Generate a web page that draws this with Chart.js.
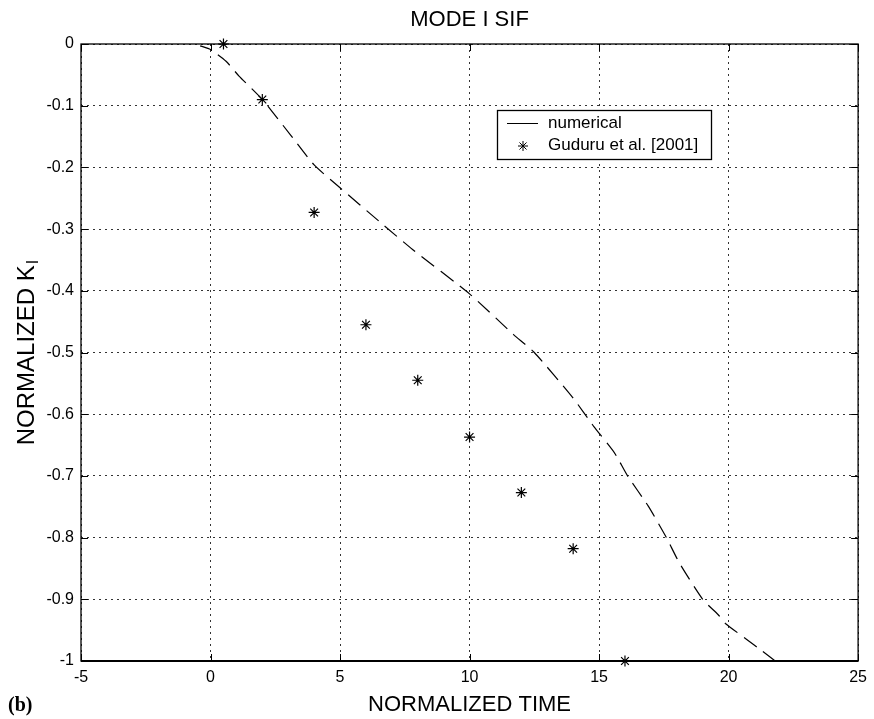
<!DOCTYPE html>
<html><head><meta charset="utf-8">
<script src="https://cdn.jsdelivr.net/npm/chart.js@4.4.0/dist/chart.umd.min.js"></script>
<style>html,body{margin:0;padding:0;background:#fff}#wrap{width:874px;height:719px}</style>
</head><body><div id="wrap"><canvas id="c" width="874" height="719"></canvas></div>
<script>
// ---- data ----
const numericalX = [-0.4, 0, 0.6, 1.1, 2, 3.1, 4, 5, 6.5, 7.8, 10, 11.7, 12.5, 14, 14.8, 15.6, 16.1, 16.9, 17.6, 18.1, 19, 19.6, 19.9, 20.7, 21.3, 21.8];
const numericalY = [-0.003, -0.009, -0.028, -0.052, -0.09, -0.148, -0.196, -0.233, -0.287, -0.333, -0.405, -0.471, -0.5, -0.574, -0.62, -0.663, -0.7, -0.749, -0.8, -0.841, -0.9, -0.925, -0.94, -0.965, -0.984, -1.0];
const guduruX = [0.5, 2, 4, 6, 8, 10, 12, 14, 16];
const guduruY = [0, -0.09, -0.273, -0.455, -0.545, -0.637, -0.727, -0.818, -1.0];
const xTicks = [-5, 0, 5, 10, 15, 20, 25];
const yTicks = [0, -0.1, -0.2, -0.3, -0.4, -0.5, -0.6, -0.7, -0.8, -0.9, -1];
const titleText = 'MODE I SIF';
const xTitle = 'NORMALIZED TIME';
const yTitleMain = 'NORMALIZED K';
const yTitleSub = 'I';
const legendLabels = ['numerical', 'Guduru et al. [2001]'];
const panelLabel = '(b)';

const FONT = "'Liberation Sans', Arial, Helvetica, sans-serif";

const numPts = numericalX.map((x, i) => ({x, y: numericalY[i]}));
const gPts = guduruX.map((x, i) => ({x, y: guduruY[i]}));

const bgPlugin = {
  id: 'bg',
  beforeDraw(chart) {
    const ctx = chart.ctx;
    ctx.save(); ctx.fillStyle = '#fff'; ctx.fillRect(0, 0, chart.width, chart.height); ctx.restore();
  }
};

const framePlugin = {
  id: 'frame',
  beforeDatasetsDraw(chart) {
    const {ctx, chartArea: a, scales: {x, y}} = chart;
    ctx.save();
    ctx.strokeStyle = '#000';
    ctx.lineWidth = 1;
    ctx.beginPath();
    const tl = 7;
    xTicks.forEach(v => {
      const px = Math.round(x.getPixelForValue(v)) + 0.5;
      ctx.moveTo(px, a.bottom); ctx.lineTo(px, a.bottom - tl);
      ctx.moveTo(px, a.top); ctx.lineTo(px, a.top + tl);
    });
    yTicks.forEach(v => {
      const py = Math.round(y.getPixelForValue(v)) + 0.5;
      ctx.moveTo(a.left, py); ctx.lineTo(a.left + tl, py);
      ctx.moveTo(a.right, py); ctx.lineTo(a.right - tl, py);
    });
    ctx.stroke();
    ctx.lineWidth = 1.3;
    ctx.strokeRect(a.left, a.top, a.right - a.left, a.bottom - a.top);
    ctx.lineWidth = 2;
    ctx.beginPath(); ctx.moveTo(a.left, a.bottom); ctx.lineTo(a.right, a.bottom); ctx.stroke();
    ctx.restore();
  }
};

const textPlugin = {
  id: 'texts',
  afterDraw(chart) {
    const {ctx, chartArea: a} = chart;
    ctx.save();
    ctx.fillStyle = '#000';
    ctx.font = '22px ' + FONT;
    ctx.textAlign = 'center'; ctx.textBaseline = 'middle';
    ctx.fillText(titleText, (a.left + a.right) / 2, 20);
    ctx.save();
    ctx.translate(27, (a.top + a.bottom) / 2);
    ctx.rotate(-Math.PI / 2);
    ctx.font = '24px ' + FONT;
    const wMain = ctx.measureText(yTitleMain).width;
    ctx.font = '16px ' + FONT;
    const wSub = ctx.measureText(yTitleSub).width;
    const total = wMain + wSub + 1;
    ctx.textAlign = 'left'; ctx.textBaseline = 'middle';
    ctx.font = '24px ' + FONT;
    ctx.fillText(yTitleMain, -total / 2, 0);
    ctx.font = '16px ' + FONT;
    ctx.fillText(yTitleSub, -total / 2 + wMain + 1, 7);
    ctx.restore();
    ctx.font = 'bold 20px "Liberation Serif", "Times New Roman", serif';
    ctx.textAlign = 'left'; ctx.textBaseline = 'middle';
    ctx.fillText(panelLabel, 8, 706);
    const lx = 497, ly = 110, lw = 214, lh = 49;
    ctx.fillStyle = '#fff';
    ctx.fillRect(lx, ly, lw, lh);
    ctx.strokeStyle = '#000'; ctx.lineWidth = 1.3;
    ctx.strokeRect(lx + 0.5, ly + 0.5, lw, lh);
    ctx.lineWidth = 1;
    ctx.beginPath(); ctx.moveTo(507, 123.5); ctx.lineTo(538, 123.5); ctx.stroke();
    Chart.helpers.drawPoint(ctx, {pointStyle: 'star', radius: 5, borderWidth: 1.2}, 523, 146);
    ctx.fillStyle = '#000';
    ctx.font = '17px ' + FONT;
    ctx.textAlign = 'left'; ctx.textBaseline = 'middle';
    ctx.fillText(legendLabels[0], 548, 123);
    ctx.fillText(legendLabels[1], 548, 145);
    ctx.restore();
  }
};

new Chart(document.getElementById('c'), {
  type: 'scatter',
  data: {
    datasets: [
      {
        label: legendLabels[0],
        data: numPts,
        showLine: true,
        pointRadius: 0,
        borderColor: '#000',
        borderWidth: 1.2,
        borderDash: [16, 8],
        borderDashOffset: 4,
        tension: 0.2,
        fill: false
      },
      {
        label: legendLabels[1],
        data: gPts,
        showLine: false,
        pointStyle: 'star',
        pointRadius: 5.5,
        pointBorderWidth: 1.2,
        borderColor: '#000',
        backgroundColor: '#000',
        clip: false
      }
    ]
  },
  options: {
    responsive: false,
    animation: false,
    devicePixelRatio: 1,
    layout: {padding: {left: 0, right: 12, top: 44, bottom: 0}},
    plugins: {legend: {display: false}, title: {display: false}, tooltip: {enabled: false}},
    scales: {
      x: {
        type: 'linear', min: -5, max: 25,
        afterBuildTicks(s) { s.ticks = xTicks.map(v => ({value: v})); },
        afterFit(s) { s.height = 58; },
        ticks: {color: '#000', font: {family: FONT, size: 16}, padding: 7, maxRotation: 0,
          callback: v => String(v)},
        grid: {color: '#333', lineWidth: 1, drawTicks: false},
        border: {display: false, dash: [2, 4]},
        title: {display: true, text: xTitle, color: '#000', font: {family: FONT, size: 22}, padding: {top: 0, bottom: 1}}
      },
      y: {
        type: 'linear', min: -1, max: 0,
        afterBuildTicks(s) { s.ticks = yTicks.map(v => ({value: v})); },
        afterFit(s) { s.width = 81; },
        ticks: {color: '#000', font: {family: FONT, size: 16}, padding: 7,
          callback: v => String(Math.round(v * 10) / 10)},
        grid: {color: '#333', lineWidth: 1, drawTicks: false},
        border: {display: false, dash: [2, 4]}
      }
    }
  },
  plugins: [bgPlugin, framePlugin, textPlugin]
});
</script>
</body></html>
